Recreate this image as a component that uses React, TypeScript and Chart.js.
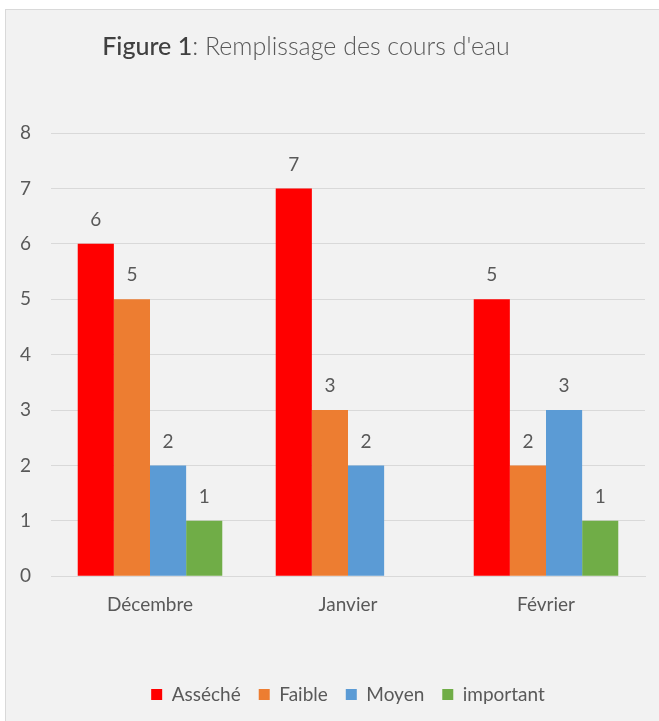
import React, { useEffect, useRef } from "react";
import { Chart, registerables } from "chart.js";

Chart.register(...registerables);

const categories = ["Décembre", "Janvier", "Février"];
const seriesNames = ["Asséché", "Faible", "Moyen", "important"];
const asseche = [6, 7, 5];
const faible = [5, 3, 2];
const moyen = [2, 2, 3];
const important: (number | null)[] = [1, null, 1];
const seriesColors = ["#FF0000", "#ED7D31", "#5B9BD5", "#70AD47"];
const yTicks = [0, 1, 2, 3, 4, 5, 6, 7, 8];
const titleBold = "Figure 1";
const titleRest = ": Remplissage des cours d'eau";

const FONT = "Lato, 'Open Sans', sans-serif";
const TEXT = "#595959";

const titlePlugin = {
  id: "mixedTitle",
  afterDraw(chart: any) {
    const ctx = chart.ctx;
    ctx.save();
    ctx.textBaseline = "middle";
    ctx.font = `500 25px ${FONT}`;
    const w1 = ctx.measureText(titleBold).width;
    ctx.font = `300 25px ${FONT}`;
    const w2 = ctx.measureText(titleRest).width;
    const x0 = chart.width / 2 - 29 - (w1 + w2) / 2;
    const y = 37;
    ctx.textAlign = "left";
    ctx.fillStyle = "#404040";
    ctx.font = `500 25px ${FONT}`;
    ctx.fillText(titleBold, x0, y);
    ctx.fillStyle = TEXT;
    ctx.font = `300 25px ${FONT}`;
    ctx.fillText(titleRest, x0 + w1, y);
    ctx.restore();
  },
};

const labelPlugin = {
  id: "barLabels",
  afterDatasetsDraw(chart: any) {
    const ctx = chart.ctx;
    ctx.save();
    ctx.font = `19px ${FONT}`;
    ctx.fillStyle = TEXT;
    ctx.textAlign = "center";
    ctx.textBaseline = "middle";
    chart.data.datasets.forEach((ds: any, i: number) => {
      const meta = chart.getDatasetMeta(i);
      meta.data.forEach((bar: any, j: number) => {
        const v = ds.data[j];
        if (v === null || v === undefined) return;
        ctx.fillText(String(v), bar.x, bar.y - 24);
      });
    });
    ctx.restore();
  },
};

export default function App() {
  const ref = useRef<HTMLCanvasElement>(null);
  useEffect(() => {
    const values = [asseche, faible, moyen, important];
    const chart = new Chart(ref.current!, {
      type: "bar",
      data: {
        labels: categories,
        datasets: seriesNames.map((name, i) => ({
          label: name,
          data: values[i],
          backgroundColor: seriesColors[i],
          borderWidth: 0,
          categoryPercentage: 0.73,
          barPercentage: 1,
        })),
      },
      options: {
        animation: false,
        responsive: true,
        maintainAspectRatio: false,
        layout: { padding: { top: 123, left: 0, right: 19, bottom: 14 } },
        plugins: {
          title: { display: false },
          tooltip: { enabled: false },
          legend: {
            position: "bottom",
            fullSize: false,
            labels: {
              color: TEXT,
              font: { family: FONT, size: 19 },
              boxWidth: 11,
              boxHeight: 11,
              padding: 18,
            },
          },
        },
        scales: {
          x: {
            grid: { display: false, drawTicks: false },
            border: { color: "#d9d9d9", width: 1 },
            ticks: { color: TEXT, font: { family: FONT, size: 19 }, padding: 17 },
            afterFit: (scale: any) => {
              scale.height += 34;
            },
          },
          y: {
            min: 0,
            max: 8,
            afterBuildTicks: (scale: any) => {
              scale.ticks = yTicks.map((v) => ({ value: v }));
            },
            afterFit: (scale: any) => {
              scale.width = 45;
            },
            grid: { color: "#d9d9d9", lineWidth: 1, drawTicks: false },
            border: { display: false },
            ticks: { color: TEXT, font: { family: FONT, size: 19 }, padding: 20 },
          },
        },
      },
      plugins: [titlePlugin, labelPlugin],
    });
    return () => chart.destroy();
  }, []);
  return (
    <div
      style={{
        position: "absolute",
        left: 5,
        top: 9,
        width: 660,
        height: 720,
        background: "#f2f2f2",
        border: "1px solid #d9d9d9",
        boxSizing: "border-box",
      }}
    >
      <canvas ref={ref} />
    </div>
  );
}
